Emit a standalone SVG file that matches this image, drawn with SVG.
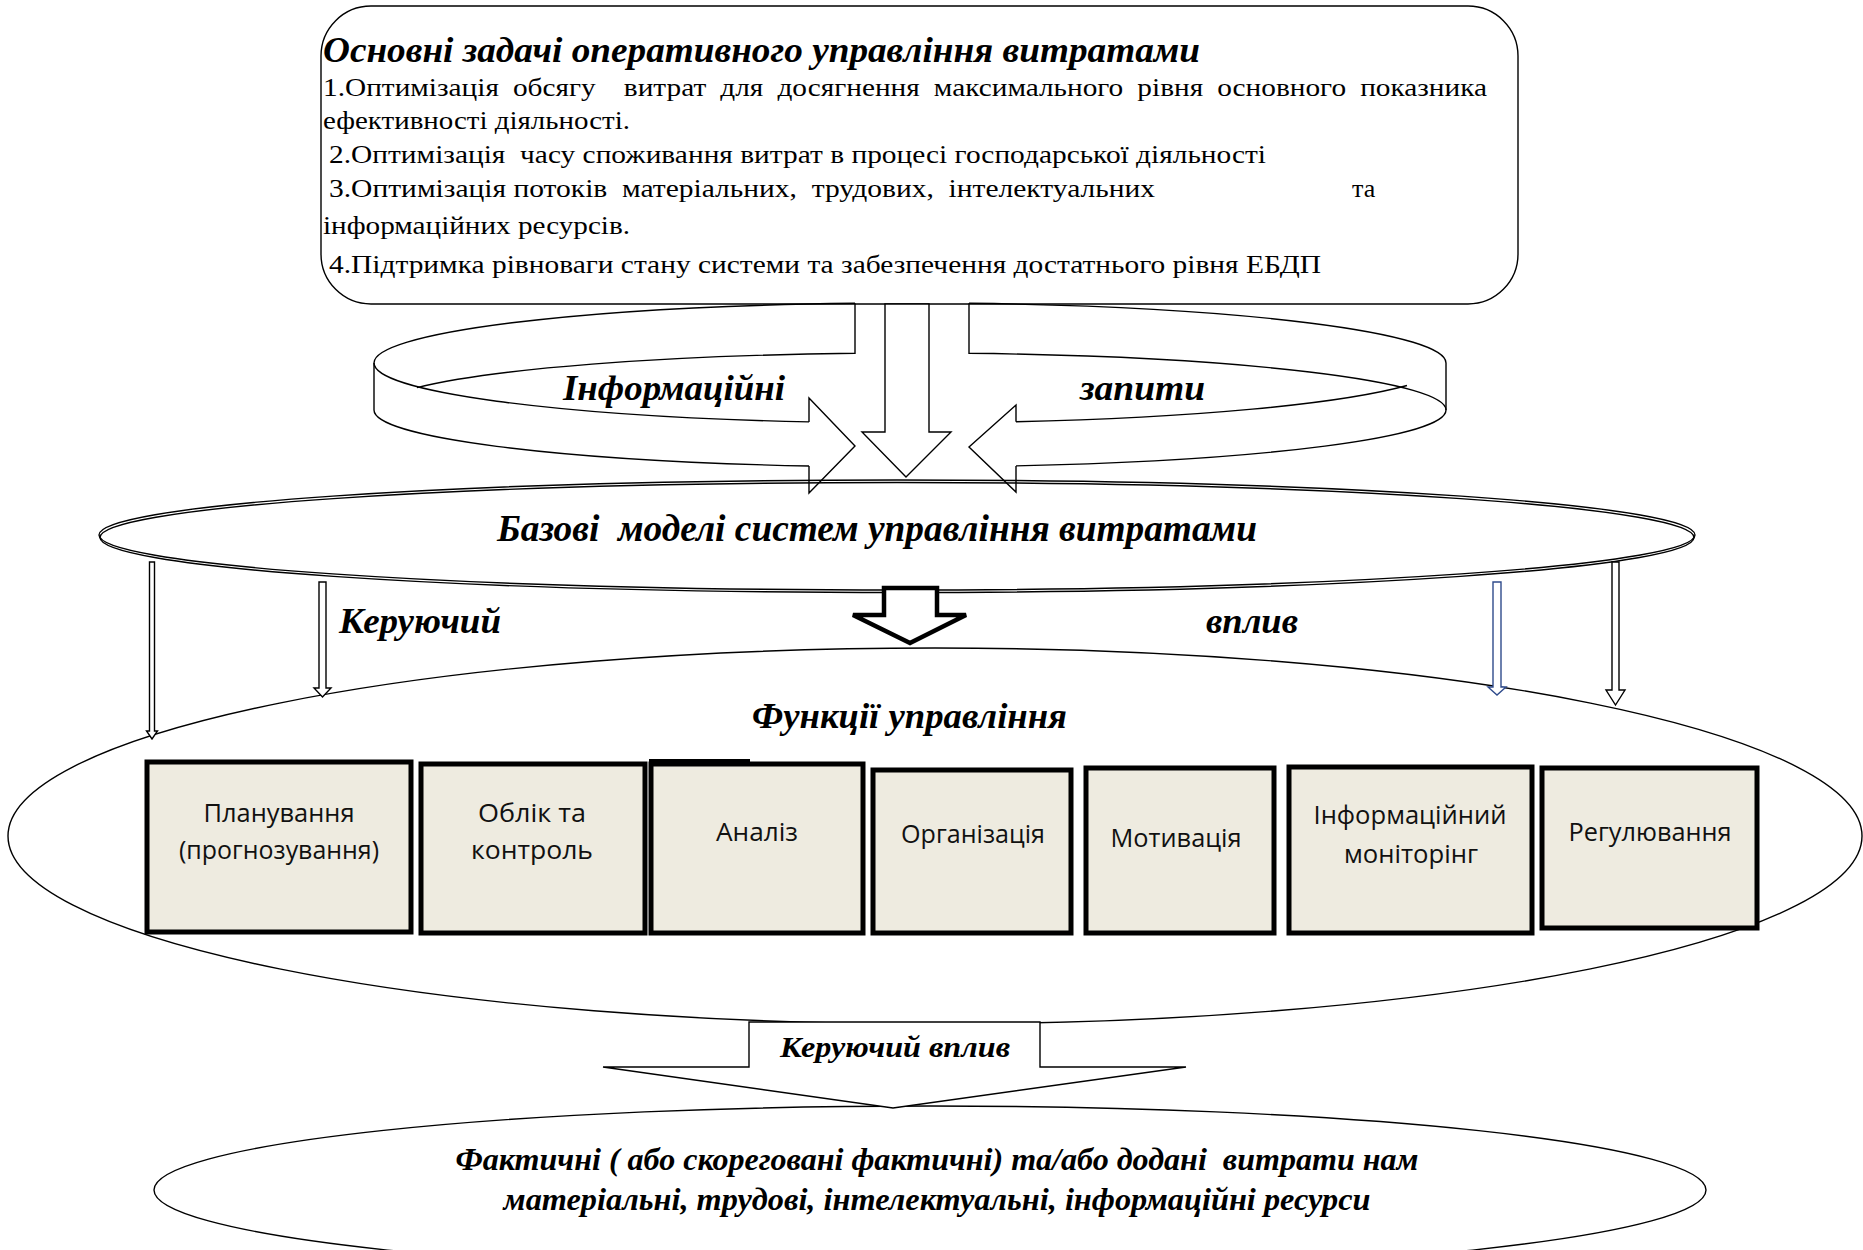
<svg xmlns="http://www.w3.org/2000/svg" width="1863" height="1250" viewBox="0 0 1863 1250">
  <style>
    .ln { fill: none; stroke: #000; stroke-width: 1.4; }
    .ar { fill: #fff; stroke: #000; stroke-width: 1.4; stroke-linejoin: miter; }
    .box { fill: #eeebe0; stroke: #000; stroke-width: 5; }
    .body { font-family: "Liberation Serif", "Times New Roman", serif; font-size: 26px; fill: #000; white-space: pre; }
    .bi { font-family: "Liberation Serif", "Times New Roman", serif; font-weight: bold; font-style: italic; fill: #000; white-space: pre; }
    .bx { font-family: "Open Sans", "Noto Sans", sans-serif; font-size: 26px; fill: #111; text-anchor: middle; }
  </style>

  <!-- outer shapes: ellipses -->
  <g id="base-models">
    <ellipse class="ln" cx="897" cy="535" rx="798" ry="55"/>
    <ellipse class="ln" cx="897" cy="537.5" rx="797" ry="55"/>
    <text class="bi" x="497" y="541" font-size="38" textLength="760" lengthAdjust="spacingAndGlyphs" xml:space="preserve">Базові  моделі систем управління витратами</text>
  </g>

  <g id="functions">
    <ellipse class="ln" cx="935" cy="836" rx="927" ry="188"/>
    <text class="bi" x="752" y="728" font-size="36" textLength="315" lengthAdjust="spacingAndGlyphs">Функції управління</text>
  </g>

  <g id="actual-costs">
    <ellipse class="ln" cx="930" cy="1190" rx="776" ry="84"/>
    <text class="bi" x="937" y="1170" font-size="32" text-anchor="middle" textLength="963" lengthAdjust="spacingAndGlyphs" xml:space="preserve">Фактичні ( або скореговані фактичні) та/або додані  витрати нам</text>
    <text class="bi" x="937" y="1210" font-size="32" text-anchor="middle" textLength="867" lengthAdjust="spacingAndGlyphs">матеріальні, трудові, інтелектуальні, інформаційні ресурси</text>
  </g>

  <!-- tasks box -->
  <g id="tasks">
    <rect class="ln" x="321" y="6" width="1197" height="298" rx="50" ry="50"/>
    <text class="bi" x="323" y="62" font-size="36" textLength="877" lengthAdjust="spacingAndGlyphs">Основні задачі оперативного управління витратами</text>
    <text class="body" x="323" y="96" textLength="1164" lengthAdjust="spacingAndGlyphs" xml:space="preserve" word-spacing="6">1.Оптимізація обсягу  витрат для досягнення максимального рівня основного показника</text>
    <text class="body" x="323" y="129" textLength="307" lengthAdjust="spacingAndGlyphs">ефективності діяльності.</text>
    <text class="body" x="329" y="163" textLength="937" lengthAdjust="spacingAndGlyphs" xml:space="preserve">2.Оптимізація  часу споживання витрат в процесі господарської діяльності</text>
    <text class="body" x="329" y="197" textLength="826" lengthAdjust="spacingAndGlyphs" xml:space="preserve">3.Оптимізація потоків  матеріальних,  трудових,  інтелектуальних</text>
    <text class="body" x="1352" y="197">та</text>
    <text class="body" x="323" y="234" textLength="307" lengthAdjust="spacingAndGlyphs">інформаційних ресурсів.</text>
    <text class="body" x="329" y="273" textLength="992" lengthAdjust="spacingAndGlyphs">4.Підтримка рівноваги стану системи та забезпечення достатнього рівня ЕБДП</text>
  </g>

  <!-- function boxes -->
  <g id="f-plan">
    <rect class="box" x="147" y="762" width="264" height="170"/>
    <text class="bx" x="279" y="822" textLength="151" lengthAdjust="spacingAndGlyphs">Планування</text>
    <text class="bx" x="279" y="859" textLength="200" lengthAdjust="spacingAndGlyphs">(прогнозування)</text>
  </g>
  <g id="f-account">
    <rect class="box" x="421" y="764" width="224" height="169"/>
    <text class="bx" x="532" y="822" textLength="108" lengthAdjust="spacingAndGlyphs">Облік та</text>
    <text class="bx" x="532" y="859" textLength="122" lengthAdjust="spacingAndGlyphs">контроль</text>
  </g>
  <g id="f-analysis">
    <rect class="box" x="651" y="764" width="212" height="169"/>
    <rect x="649" y="759" width="101" height="6" fill="#000"/>
    <text class="bx" x="757" y="841" textLength="82" lengthAdjust="spacingAndGlyphs">Аналіз</text>
  </g>
  <g id="f-org">
    <rect class="box" x="873" y="770" width="198" height="163"/>
    <text class="bx" x="973" y="843" textLength="144" lengthAdjust="spacingAndGlyphs">Організація</text>
  </g>
  <g id="f-motivation">
    <rect class="box" x="1086" y="768" width="188" height="165"/>
    <text class="bx" x="1176" y="847" textLength="131" lengthAdjust="spacingAndGlyphs">Мотивація</text>
  </g>
  <g id="f-monitoring">
    <rect class="box" x="1289" y="767" width="243" height="166"/>
    <text class="bx" x="1410" y="824" textLength="193" lengthAdjust="spacingAndGlyphs">Інформаційний</text>
    <text class="bx" x="1411" y="863" textLength="134" lengthAdjust="spacingAndGlyphs">моніторінг</text>
  </g>
  <g id="f-regulation">
    <rect class="box" x="1542" y="768" width="215" height="160"/>
    <text class="bx" x="1650" y="841" textLength="163" lengthAdjust="spacingAndGlyphs">Регулювання</text>
  </g>

  <!-- connectors -->
  <g id="connectors">
    <!-- information requests: left ribbon arrow -->
    <path class="ln" d="M855 303.3 A536 60 0 0 0 374 363 V410 A536 57 0 0 0 809 466"/>
    <path class="ln" d="M374 363 A536 60 0 0 0 809 421.9"/>
    <path class="ln" d="M855 303.3 V353.3 A536 57 0 0 0 417 387.6"/>
    <path class="ln" d="M809 421.9 V398 L855 446 L809 493 V466"/>
    <!-- information requests: right ribbon arrow -->
    <path class="ln" d="M969 303.3 A536 60 0 0 1 1446 363 V410 A536 57 0 0 1 1016 465.9"/>
    <path class="ln" d="M969 303.3 V353.3 A536 57 0 0 1 1446 410"/>
    <path class="ln" d="M1016 421.8 A536 60 0 0 0 1407 385.5"/>
    <path class="ln" d="M1016 421.8 V405 L969 447 L1016 492 V465.9"/>
    <!-- central down arrow -->
    <path class="ar" d="M885 304 V432 H862 L906 477 L951 432 H929 V304 Z"/>
    <text class="bi" x="563" y="400" font-size="36" textLength="222" lengthAdjust="spacingAndGlyphs">Інформаційні</text>
    <text class="bi" x="1080" y="400" font-size="36" textLength="125" lengthAdjust="spacingAndGlyphs">запити</text>

    <!-- control influence from base models to functions -->
    <polygon class="ar" points="149.5,562 154.5,562 154.5,731 157.5,731 152,739 146.5,731 149.5,731"/>
    <polygon class="ar" points="319,582 326,582 326,688 331,688 322.5,697 314,688 319,688"/>
    <polygon class="ar" style="stroke:#2f4b8c" points="1493,582 1501,582 1501,687 1506,687 1497,695 1488,687 1493,687"/>
    <polygon class="ar" points="1612,562 1619,562 1619,690 1625,690 1615.5,705 1606,690 1612,690"/>
    <polygon class="ar" style="stroke-width:4.5" points="884,588 937,588 937,615 966,615 910,643 853,615 884,615"/>
    <text class="bi" x="339" y="633" font-size="36" textLength="162" lengthAdjust="spacingAndGlyphs">Керуючий</text>
    <text class="bi" x="1206" y="633" font-size="36" textLength="92" lengthAdjust="spacingAndGlyphs">вплив</text>

    <!-- control influence towards actual costs -->
    <path class="ar" d="M749 1022 H1040 V1067 H1186 L893 1108 L603 1067 H749 Z"/>
    <text class="bi" x="780" y="1057" font-size="30" textLength="230" lengthAdjust="spacingAndGlyphs">Керуючий вплив</text>
  </g>
</svg>
